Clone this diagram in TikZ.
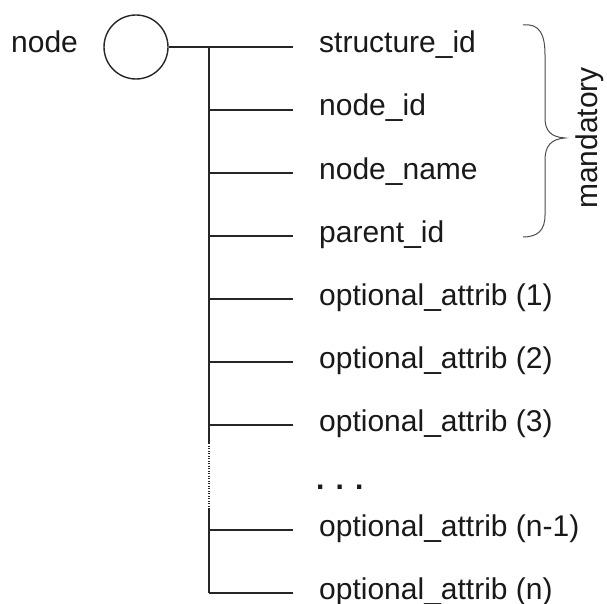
\documentclass[tikz,border=0pt]{standalone}
\usepackage{fontspec}
\setmainfont{Liberation Sans}
\begin{document}
\begin{tikzpicture}[x=1pt,y=-1pt,
  line/.style={line width=1.4pt,black!85},
  lbl/.style={anchor=base west,inner sep=0pt,font=\fontsize{30}{33}\selectfont,text=black!90},
  bracestyle/.style={line width=1pt,black!70}]
\useasboundingbox (0,0) rectangle (607,604);
% root
\node[lbl] (nodelbl) at (11,53) {node};
\node[circle,draw,line width=1.4pt,black!85,minimum size=64pt,inner sep=0pt] (root) at (136,47) {};
% trunk coordinates
\coordinate (t0) at (209,47);
\coordinate (t1) at (209,110);
\coordinate (t2) at (209,173);
\coordinate (t3) at (209,236);
\coordinate (t4) at (209,299);
\coordinate (t5) at (209,362);
\coordinate (t6) at (209,425);
\coordinate (dA) at (209,443);
\coordinate (dB) at (209,508);
\coordinate (t7) at (209,530);
\coordinate (t8) at (209,593);
% branch ends
\coordinate (e0) at (293,47);
\coordinate (e1) at (293,110);
\coordinate (e2) at (293,173);
\coordinate (e3) at (293,236);
\coordinate (e4) at (293,299);
\coordinate (e5) at (293,362);
\coordinate (e6) at (293,425);
\coordinate (e7) at (293,530);
\coordinate (e8) at (293,593);
% labels
\node[lbl] (l0) at (319,53) {structure\_id};
\node[lbl] (l1) at (319,116) {node\_id};
\node[lbl] (l2) at (319,179) {node\_name};
\node[lbl] (l3) at (319,242) {parent\_id};
\node[lbl] (l4) at (319,305) {optional\_attrib (1)};
\node[lbl] (l5) at (319,368) {optional\_attrib (2)};
\node[lbl] (l6) at (319,431) {optional\_attrib (3)};
\node[lbl] (ld) at (316,489) {\textbf{. . .}};
\node[lbl] (l7) at (319,536) {optional\_attrib (n-1)};
\node[lbl] (l8) at (319,599) {optional\_attrib (n)};
% connectors
\draw[line] (root.east) -- (e0);
\draw[line] (t0) -- (dA);
\draw[line,dash pattern=on 1.2pt off 1.3pt] (dA) -- (dB);
\draw[line] (dB) -- (t8);
\foreach \i in {1,...,8} \draw[line] (t\i) -- (e\i);
% brace
\draw[bracestyle] (523,25) .. controls (540,23) and (545,35) .. (545,55)
  -- (545,118) .. controls (545,131) and (551,137) .. (565,138)
  .. controls (551,139) and (545,146) .. (545,160)
  -- (545,215) .. controls (545,230) and (538,237) .. (523,237);
\node[anchor=base,inner sep=0pt,rotate=90,font=\fontsize{30}{33}\selectfont,text=black!90] (mand) at (597,138) {mandatory};
\end{tikzpicture}
\end{document}
